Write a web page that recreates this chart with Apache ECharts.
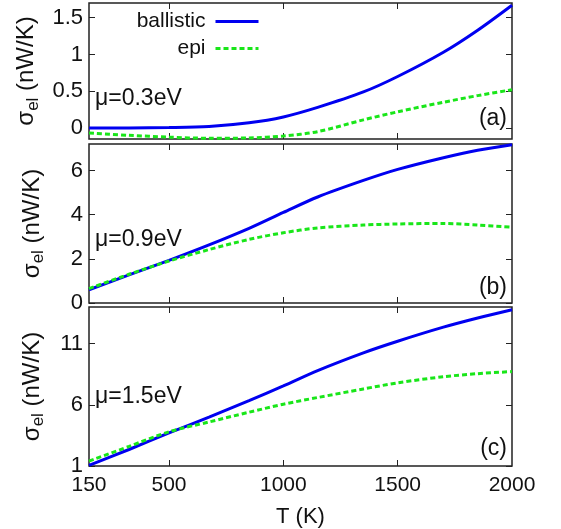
<!DOCTYPE html>
<html>
<head>
<meta charset="utf-8">
<script src="https://cdn.jsdelivr.net/npm/echarts@6/dist/echarts.min.js"></script>
<style>html,body{margin:0;padding:0;background:#fff;}#c{width:561px;height:529px;}</style>
</head>
<body>
<div id="c"></div>
<script>
// Temperature grid (K)
const T = [150, 325, 500, 675, 850, 1000, 1150, 1350, 1500, 1700, 1850, 2000];
// Panel (a) mu = 0.3 eV
const ballisticA = [0.0, 0.0, 0.005, 0.02, 0.07, 0.15, 0.28, 0.49, 0.70, 1.03, 1.33, 1.67];
const epiA = [-0.068, -0.10, -0.125, -0.14, -0.135, -0.11, -0.05, 0.11, 0.22, 0.35, 0.44, 0.52];
// Panel (b) mu = 0.9 eV
const ballisticB = [0.6, 1.27, 1.93, 2.63, 3.38, 4.1, 4.8, 5.55, 6.05, 6.58, 6.92, 7.17];
const epiB = [0.65, 1.3, 1.9, 2.42, 2.88, 3.18, 3.4, 3.53, 3.58, 3.6, 3.53, 3.43];
// Panel (c) mu = 1.5 eV
const ballisticC = [1.05, 2.35, 3.7, 5.0, 6.35, 7.55, 8.8, 10.25, 11.2, 12.35, 13.1, 13.78];
const epiC = [1.4, 2.6, 3.8, 4.6, 5.4, 6.05, 6.6, 7.3, 7.8, 8.3, 8.55, 8.72];

const xTicks = [500, 1000, 1500];
const xLabels = [150, 500, 1000, 1500, 2000];
const yTicksA = [0, 0.5, 1, 1.5];
const yTicksB = [0, 2, 4, 6];
const yTicksC = [1, 6, 11];
const panelLetters = ['(a)', '(b)', '(c)'];
const muLabels = ['\u03bc=0.3eV', '\u03bc=0.9eV', '\u03bc=1.5eV'];
const seriesNames = ['ballistic', 'epi'];

const FONT = 'Liberation Sans, Arial, sans-serif';
const BLUE = '#0000f0';
const GREEN = '#19e619';

const grids = [
  {left: 89, right: 49, top: 3, height: 136},
  {left: 89, right: 49, top: 144, height: 159},
  {left: 89, right: 49, top: 307, height: 159}
].map(g => Object.assign(g, {show: true, borderColor: '#222', borderWidth: 1.5, containLabel: false}));

const yRanges = [[-0.15, 1.7, yTicksA], [0, 7.2, yTicksB], [1, 14, yTicksC]];
const fmt = v => String(v);

const xAxes = [], yAxes = [];
for (let i = 0; i < 3; i++) {
  const last = i === 2;
  xAxes.push({
    type: 'value', gridIndex: i, position: 'bottom', min: 150, max: 2000,
    axisLine: {show: false, onZero: false},
    axisTick: {show: true, inside: true, length: 6, lineStyle: {color: '#222', width: 1}, customValues: xTicks},
    axisLabel: {show: last, customValues: xLabels, formatter: fmt, fontSize: 21, fontFamily: FONT, color: '#111', margin: 9},
    splitLine: {show: false},
    name: last ? 'T (K)' : '', nameLocation: 'middle', nameGap: 40,
    nameTextStyle: {fontSize: 22, fontFamily: FONT, color: '#111'}
  });
  xAxes.push({
    type: 'value', gridIndex: i, position: 'top', min: 150, max: 2000,
    axisLine: {show: false, onZero: false},
    axisTick: {show: true, inside: true, length: 6, lineStyle: {color: '#222', width: 1}, customValues: xTicks},
    axisLabel: {show: false}, splitLine: {show: false}
  });
  const [mn, mx, tk] = yRanges[i];
  yAxes.push({
    type: 'value', gridIndex: i, position: 'left', min: mn, max: mx,
    axisLine: {show: false, onZero: false},
    axisTick: {show: true, inside: true, length: 6, lineStyle: {color: '#222', width: 1}, customValues: tk},
    axisLabel: {show: true, customValues: tk, formatter: fmt, fontSize: 22, fontFamily: FONT, color: '#111', margin: 6},
    splitLine: {show: false},
    name: '{a|\u03c3}{b|el}{a| (nW/K)}', nameLocation: 'middle', nameRotate: 90, nameGap: 42,
    nameTextStyle: {
      fontFamily: FONT, color: '#111',
      rich: {
        a: {fontSize: 24, lineHeight: 30, fontFamily: FONT, color: '#111', verticalAlign: 'middle'},
        b: {fontSize: 17, lineHeight: 17, fontFamily: FONT, color: '#111', verticalAlign: 'bottom'}
      }
    }
  });
  yAxes.push({
    type: 'value', gridIndex: i, position: 'right', min: mn, max: mx,
    axisLine: {show: false, onZero: false},
    axisTick: {show: true, inside: true, length: 6, lineStyle: {color: '#222', width: 1}, customValues: tk},
    axisLabel: {show: false}, splitLine: {show: false}
  });
}

const panelData = [[ballisticA, epiA], [ballisticB, epiB], [ballisticC, epiC]];
const series = [];
panelData.forEach((pair, i) => {
  pair.forEach((vals, k) => {
    series.push({
      name: seriesNames[k], type: 'line', xAxisIndex: 2 * i, yAxisIndex: 2 * i,
      data: T.map((t, j) => [t, vals[j]]),
      showSymbol: false, symbol: 'none', smooth: 0.3, clip: true,
      lineStyle: k === 0 ? {color: BLUE, width: 3} : {color: GREEN, width: 3, type: [5, 3]},
      itemStyle: {color: k === 0 ? BLUE : GREEN},
      z: k === 0 ? 3 : 4
    });
  });
});

const graphic = [];
grids.forEach((g, i) => {
  graphic.push({
    type: 'text', left: 95, top: [87, 228, 385][i],
    style: {text: muLabels[i], font: '23px ' + FONT, fill: '#111'}
  });
  graphic.push({
    type: 'text', right: 54, top: [107, 276, 437][i],
    style: {text: panelLetters[i], font: '23px ' + FONT, fill: '#111'}
  });
});

const chart = echarts.init(document.getElementById('c'), null, {renderer: 'canvas'});
chart.setOption({
  animation: false,
  backgroundColor: '#fff',
  grid: grids,
  xAxis: xAxes,
  yAxis: yAxes,
  legend: {
    data: seriesNames,
    orient: 'vertical', align: 'right', right: 301, top: 11, padding: 0,
    itemWidth: 43, itemHeight: 14, itemGap: 6,
    itemStyle: {opacity: 0},
    lineStyle: {width: 3},
    textStyle: {fontSize: 21, lineHeight: 20, fontFamily: FONT, color: '#111', padding: [0, 5, 0, 0]}
  },
  series: series,
  graphic: graphic
});
</script>
</body>
</html>
